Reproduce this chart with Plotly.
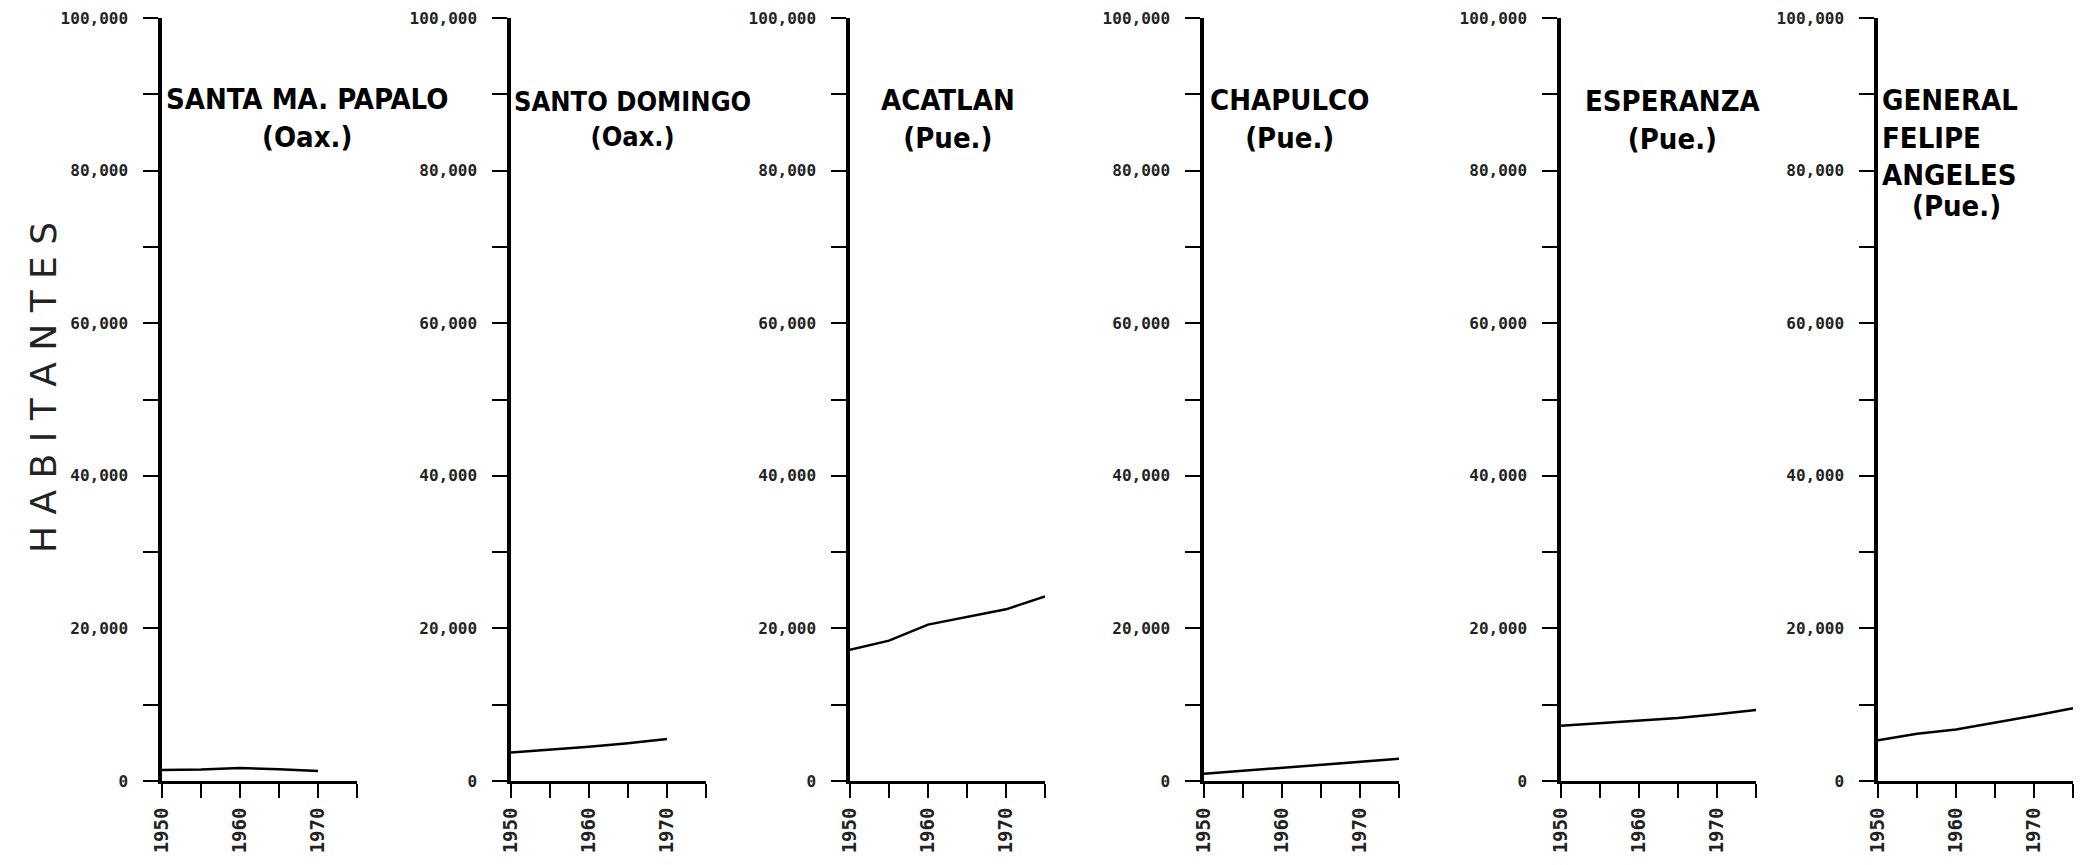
import plotly.graph_objects as go

# --- data (habitantes per census year) ---
years_to_1970 = [1950, 1955, 1960, 1965, 1970]
years_to_1975 = [1950, 1955, 1960, 1965, 1970, 1975]

santa_ma_papalo = [1450, 1500, 1700, 1550, 1300]
santo_domingo = [3750, 4100, 4500, 4950, 5500]
acatlan = [17200, 18400, 20500, 21500, 22500, 24200]
chapulco = [950, 1350, 1700, 2100, 2550, 2900]
esperanza = [7250, 7600, 7900, 8250, 8750, 9300]
gral_felipe_angeles = [5350, 6200, 6750, 7600, 8550, 9550]

panel_titles = [
    ["SANTA MA. PAPALO<br>(Oax.)"],
    ["SANTO DOMINGO<br>(Oax.)"],
    ["ACATLAN<br>(Pue.)"],
    ["CHAPULCO<br>(Pue.)"],
    ["ESPERANZA<br>(Pue.)"],
    ["GENERAL<br>FELIPE<br>ANGELES", "(Pue.)"],
]
series = [
    (years_to_1970, santa_ma_papalo),
    (years_to_1970, santo_domingo),
    (years_to_1975, acatlan),
    (years_to_1975, chapulco),
    (years_to_1975, esperanza),
    (years_to_1975, gral_felipe_angeles),
]

y_tick_vals = list(range(0, 100001, 10000))
y_tick_text = [f"{v:,}" if v % 20000 == 0 else "" for v in y_tick_vals]
x_tick_vals = [1950, 1955, 1960, 1965, 1970, 1975]
x_tick_text = ["1950", "", "1960", "", "1970", ""]

# --- layout helpers: positions measured in screen pixels of the page ---
PAGE_OFF = 8            # default body margin of the html page
W, H = 2084 - 2 * PAGE_OFF, 865 - 2 * PAGE_OFF
axis_px = [162, 511, 850, 1204, 1561, 1878]
panel_w = 195
zero_px, top_px = 781, 18


def px_x(sx):
    return (sx - PAGE_OFF) / W


def px_y(sy):
    return (H - (sy - PAGE_OFF)) / H


y_dom = [px_y(zero_px), px_y(top_px)]

# title block positions per panel: (year, value, xanchor, align, size)
title_pos = [
    [(1968.6, 86900, "center", "center", 29)],
    [(1965.6, 86700, "center", "center", 27)],
    [(1962.6, 86700, "center", "center", 29)],
    [(1961.0, 86700, "center", "center", 29)],
    [(1964.3, 86600, "center", "center", 29)],
    [(1950.3, 84400, "left", "left", 29), (1960.0, 75300, "center", "center", 29)],
]

title_family = "Liberation Sans Narrow, DejaVu Sans Condensed, sans-serif"
tick_font = dict(family="DejaVu Sans Mono, monospace", size=16, color="#222222", weight="bold")
year_font = dict(family="DejaVu Sans Mono, monospace", size=19, color="#222222", weight="bold")

fig = go.Figure()
layout = dict(
    width=W, height=H,
    margin=dict(l=0, r=0, t=0, b=0),
    plot_bgcolor="white", paper_bgcolor="white",
    showlegend=False,
)
annotations = []

for i, ((xs, ys), titles, pos) in enumerate(zip(series, panel_titles, title_pos)):
    n = "" if i == 0 else str(i + 1)
    fig.add_trace(go.Scatter(
        x=xs, y=ys, mode="lines",
        line=dict(color="black", width=2.5),
        xaxis=f"x{n}", yaxis=f"y{n}",
        hoverinfo="skip",
    ))
    layout[f"xaxis{n}"] = dict(
        domain=[px_x(axis_px[i]), px_x(axis_px[i] + panel_w)],
        anchor=f"y{n}", range=[1950, 1975],
        showgrid=False, zeroline=False,
        showline=True, linecolor="black", linewidth=3,
        ticks="outside", ticklen=14, tickwidth=2, tickcolor="black",
        tickvals=x_tick_vals, ticktext=x_tick_text,
        tickangle=-90, tickfont=year_font, ticklabelstandoff=2,
        automargin=False, fixedrange=True,
    )
    layout[f"yaxis{n}"] = dict(
        domain=y_dom, anchor=f"x{n}", range=[0, 100000],
        showgrid=False, zeroline=False,
        showline=True, linecolor="black", linewidth=3.5,
        ticks="outside", ticklen=15, tickwidth=2, tickcolor="black",
        tickvals=y_tick_vals, ticktext=y_tick_text,
        tickfont=tick_font, ticklabelstandoff=12,
        automargin=False, fixedrange=True,
    )
    for text, (tx, ty, anchor, align, size) in zip(titles, pos):
        annotations.append(dict(
            text=text, x=tx, y=ty, xref=f"x{n}", yref=f"y{n}",
            xanchor=anchor, yanchor="middle", align=align, showarrow=False,
            font=dict(family=title_family, size=size, color="black", weight="bold"),
        ))

annotations.append(dict(
    text="H A B I T A N T E S", x=px_x(44), y=px_y(388),
    xref="paper", yref="paper", xanchor="center", yanchor="middle",
    textangle=-90, showarrow=False,
    font=dict(family="DejaVu Sans, sans-serif", size=36, color="#222222"),
))

layout["annotations"] = annotations
fig.update_layout(**layout)
fig.write_html("out.html")
